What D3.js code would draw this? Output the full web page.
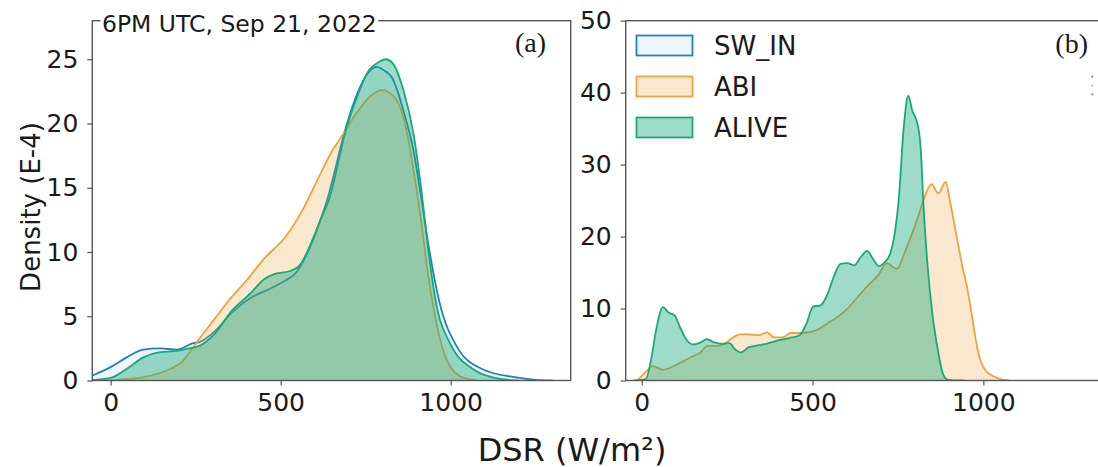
<!DOCTYPE html>
<html><head><meta charset="utf-8">
<script src="https://cdn.jsdelivr.net/npm/d3@7"></script>
<style>body{margin:0;background:#fff}svg{display:block}text{font-family:"DejaVu Sans",sans-serif;fill:#1a1a1a}</style>
</head><body><svg id="c" width="1098" height="467"></svg>
<script>
// ---- data ----
const seriesNames = ["SW_IN", "ABI", "ALIVE"];
const xTicks = [0, 500, 1000];
const yTicksA = [0, 5, 10, 15, 20, 25];
const yTicksB = [0, 10, 20, 30, 40, 50];
const titleA = "6PM UTC, Sep 21, 2022";
const xLabel = "DSR (W/m²)";
const yLabel = "Density (E-4)";

// panel (a)
const swinA_x = [-54, 0, 47, 96, 145, 194, 243, 262, 305, 357, 410, 473, 515, 546, 578, 609, 636, 693, 725, 756, 782, 800, 829, 861, 892, 913, 935, 966, 1019, 1092, 1187, 1250, 1300];
const swinA_y = [0.39, 1.04, 1.8, 2.4, 2.5, 2.4, 2.9, 3.0, 3.8, 5.3, 6.4, 7.2, 7.8, 8.4, 9.9, 11.9, 14, 19.8, 22.3, 23.9, 24.4, 24.2, 23.5, 21.0, 17.7, 14.3, 10.5, 6.2, 2.6, 0.9, 0.26, 0.05, 0];
const abiA_x = [0, 50, 96, 165, 214, 243, 265, 300, 350, 400, 452, 515, 567, 619, 650, 682, 725, 767, 798, 829, 861, 890, 910, 935, 960, 990, 1030, 1080];
const abiA_y = [0, 0.1, 0.26, 0.78, 1.56, 2.6, 3.4, 4.6, 6.3, 7.8, 9.5, 11.2, 13.4, 16.2, 17.8, 19.1, 20.9, 22.2, 22.6, 22.2, 20.5, 16.5, 13, 8, 4.2, 1.5, 0.3, 0];
const aliveA_x = [-54, 0, 47, 96, 145, 194, 231, 262, 305, 357, 410, 452, 483, 525, 557, 588, 620, 641, 693, 725, 756, 790, 808, 829, 861, 892, 913, 935, 956, 998, 1071, 1145, 1200];
const aliveA_y = [0.02, 0.2, 0.9, 1.8, 2.2, 2.3, 2.5, 2.7, 3.6, 5.45, 6.75, 7.9, 8.3, 8.5, 9.0, 10.6, 12.7, 14, 19.6, 22.1, 24.0, 24.8, 25.0, 24.7, 22.6, 19, 15, 10, 6.2, 2.9, 0.8, 0.13, 0];

// panel (b)
const abiB_x = [-13, 12, 32, 62, 102, 142, 172, 192, 222, 242, 262, 287, 312, 342, 367, 387, 412, 437, 472, 512, 542, 572, 602, 632, 662, 692, 717, 747, 772, 797, 812, 828, 848, 868, 890, 902, 918, 938, 952, 965, 978, 990, 1005, 1025, 1050, 1075];
const abiB_y = [0, 1.2, 2.0, 1.5, 2.2, 3.2, 3.9, 4.8, 4.8, 5.1, 5.8, 6.4, 6.4, 6.3, 6.7, 6.0, 6.0, 6.6, 6.6, 7.0, 7.9, 8.8, 10.0, 11.6, 13.2, 14.6, 16.3, 15.5, 18.1, 21.1, 23.2, 25.5, 27.3, 26.0, 27.6, 25, 21, 16, 13, 9.5, 5.6, 3.0, 1.5, 0.7, 0.2, 0];
const aliveB_x = [-23, 12, 27, 42, 62, 77, 97, 112, 132, 152, 172, 190, 212, 237, 257, 272, 290, 312, 342, 372, 402, 432, 462, 482, 502, 522, 542, 562, 582, 602, 622, 642, 660, 677, 694, 712, 727, 742, 752, 767, 780, 792, 807, 817, 824, 837, 852, 867, 882, 897, 942];
const aliveB_y = [0, 0.2, 2.8, 7.0, 10.2, 9.5, 9.0, 7.4, 5.6, 5.0, 5.3, 5.75, 5.3, 5.1, 5.2, 4.4, 3.9, 4.6, 4.9, 5.2, 5.6, 5.9, 6.3, 7.9, 10.3, 10.4, 11.8, 14.4, 16.2, 16.3, 16.0, 17.2, 18.0, 16.9, 15.9, 16.5, 17.6, 20.9, 25.0, 35.2, 39.6, 37.5, 35.7, 32, 25, 15.8, 8.8, 4.2, 0.9, 0.1, 0];

// ---- styles ----
const colors = {SW_IN: {line: "#1f82c0", fill: "#1f82c0", a: 0.08},
                ABI:   {line: "#eda23a", fill: "#eda23a", a: 0.25},
                ALIVE: {line: "#17a97b", fill: "#17a97b", a: 0.42}};
const spine = "#555";

const svg = d3.select("#c");
const zip = (xs, ys) => xs.map((x, i) => [x, ys[i]]);

function panel(opts) {
  const {id, xr, xd, yd, yticks, series} = opts;
  const top = 20.7, bot = 380.5;
  const x = d3.scaleLinear().domain(xd).range(xr);
  const y = d3.scaleLinear().domain(yd).range([bot, top]);
  const g = svg.append("g");
  g.append("clipPath").attr("id", "clip" + id).append("rect")
    .attr("x", xr[0]).attr("y", top).attr("width", xr[1] - xr[0]).attr("height", bot - top);
  const plot = g.append("g").attr("clip-path", `url(#clip${id})`);
  const area = d3.area().x(d => x(d[0])).y0(y(0)).y1(d => y(d[1])).curve(d3.curveMonotoneX);
  const line = d3.line().x(d => x(d[0])).y(d => y(d[1])).curve(d3.curveMonotoneX);
  series.forEach(s => {
    const c = colors[s.name];
    const pts = zip(s.x, s.y);
    plot.append("path").attr("d", area(pts)).attr("fill", c.fill).attr("fill-opacity", c.a);
    plot.append("path").attr("d", line(pts)).attr("fill", "none").attr("stroke", c.line).attr("stroke-width", 1.8);
  });
  const ya = g.append("g").attr("transform", `translate(${xr[0]},0)`)
    .call(d3.axisLeft(y).tickValues(yticks).tickSize(5).tickPadding(9));
  const xa = g.append("g").attr("transform", `translate(0,${bot})`)
    .call(d3.axisBottom(x).tickValues(xTicks).tickSize(5).tickPadding(8).tickFormat(d3.format("d")));
  [ya, xa].forEach(a => {
    a.select(".domain").remove();
    a.selectAll(".tick line").attr("stroke", spine).attr("stroke-width", 1.2);
    a.selectAll(".tick text").attr("font-size", 25).attr("font-family", "DejaVu Sans").attr("fill", "#1a1a1a");
  });
  g.append("rect").attr("x", xr[0]).attr("y", top).attr("width", xr[1] - xr[0]).attr("height", bot - top)
    .attr("fill", "none").attr("stroke", spine).attr("stroke-width", 1.4);
  return {x, y, g};
}

const A = panel({id: "a", xr: [92.3, 570.7], xd: [-54, 1353], yd: [0, 28], yticks: yTicksA,
  series: [{name: "SW_IN", x: swinA_x, y: swinA_y}, {name: "ABI", x: abiA_x, y: abiA_y}, {name: "ALIVE", x: aliveA_x, y: aliveA_y}]});
const B = panel({id: "b", xr: [625.7, 1104.1], xd: [-47, 1353.5], yd: [0, 50], yticks: yTicksB,
  series: [{name: "ABI", x: abiB_x, y: abiB_y}, {name: "ALIVE", x: aliveB_x, y: aliveB_y}]});

// title on panel (a) with white background
const titleRect = svg.append("rect").attr("fill", "#fff");
const tt = svg.append("text").attr("x", 102).attr("y", 31.7).attr("font-size", 23.5).text(titleA);
const bb = tt.node().getBBox();
titleRect.attr("x", bb.x - 1.5).attr("y", bb.y).attr("width", bb.width + 3).attr("height", bb.height);

// panel labels
svg.append("text").attr("x", 546).attr("y", 52).attr("text-anchor", "end")
  .style("font-family", "'Liberation Serif',serif").attr("font-size", 28).text("(a)");
svg.append("text").attr("x", 1088).attr("y", 53).attr("text-anchor", "end")
  .style("font-family", "'Liberation Serif',serif").attr("font-size", 28).text("(b)");

// clipped dotted mark at right edge
[76.7, 85.7, 94.3].forEach((yy, i) => svg.append("circle").attr("cx", 1092.3).attr("cy", yy).attr("r", 1.1).attr("fill", i === 1 ? "#bbb" : "#888"));

// legend in panel (b)
seriesNames.forEach((n, i) => {
  const c = colors[n];
  const y0 = 35.5 + i * 41;
  svg.append("rect").attr("x", 636.5).attr("y", y0).attr("width", 56).attr("height", 20).attr("fill", "#fff");
  svg.append("rect").attr("x", 636.5).attr("y", y0).attr("width", 56).attr("height", 20)
    .attr("fill", c.fill).attr("fill-opacity", c.a).attr("stroke", c.line).attr("stroke-width", 1.8);
  svg.append("text").attr("x", 714).attr("y", y0 + 19.5).attr("font-size", 26).text(n);
});

// axis labels
svg.append("text").attr("x", 572).attr("y", 460.5).attr("text-anchor", "middle").attr("font-size", 32).text(xLabel);
svg.append("text").attr("transform", "translate(40,207) rotate(-90)").attr("text-anchor", "middle").attr("font-size", 26).text(yLabel);
</script></body></html>
